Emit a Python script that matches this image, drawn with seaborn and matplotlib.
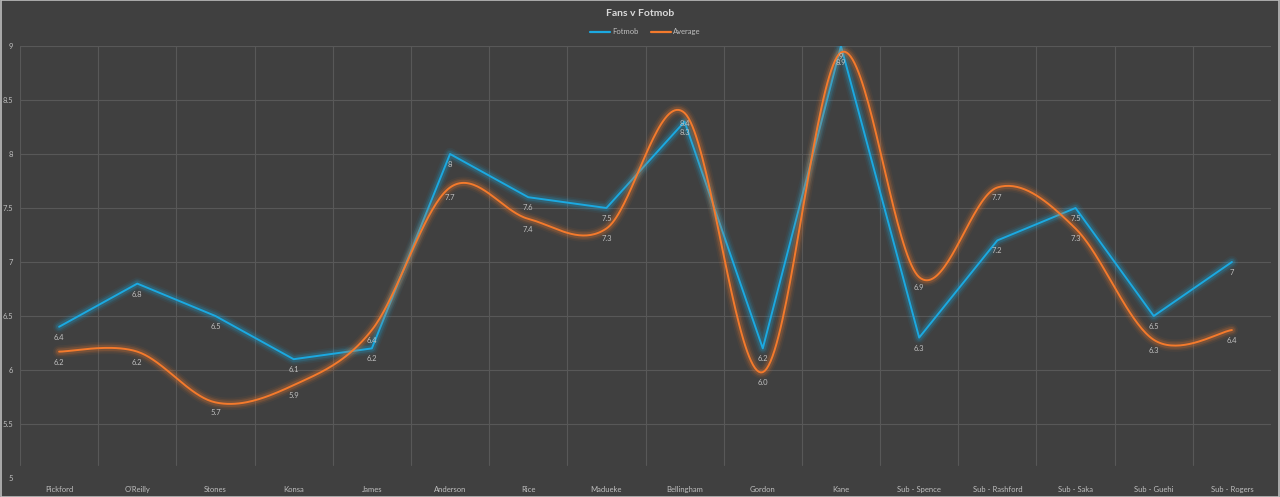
import numpy as np
import pandas as pd
import matplotlib
matplotlib.use("Agg")
import matplotlib.pyplot as plt
import matplotlib.patheffects as pe
from matplotlib.patches import Rectangle
import seaborn as sns

players = ["Pickford", "O'Reilly", "Stones", "Konsa", "James", "Anderson", "Rice",
           "Madueke", "Bellingham", "Gordon", "Kane", "Sub - Spence", "Sub - Rashford",
           "Sub - Saka", "Sub - Guehi", "Sub - Rogers"]
fotmob = [6.4, 6.8, 6.5, 6.1, 6.2, 8.0, 7.6, 7.5, 8.3, 6.2, 9.0, 6.3, 7.2, 7.5, 6.5, 7.0]
average = [6.17, 6.17, 5.70, 5.86, 6.37, 7.69, 7.40, 7.31, 8.38, 5.98, 8.94, 6.86, 7.69, 7.31, 6.28, 6.37]
y_ticks = [5, 5.5, 6, 6.5, 7, 7.5, 8, 8.5, 9]

BG = "#404040"
GRID = "#585858"
TXT = "#BFBFBF"
BLUE = "#1BA9E1"
ORANGE = "#F47A2C"


def smooth(xs, ys, n=40):
    """Bezier smoothing (as a spreadsheet 'smoothed line')."""
    P = np.column_stack([xs, ys]).astype(float)
    out = []
    for i in range(len(P) - 1):
        p0 = P[max(i - 1, 0)]
        p1 = P[i]
        p2 = P[i + 1]
        p3 = P[min(i + 2, len(P) - 1)]
        c1 = p1 + (p2 - p0) / 6.0
        c2 = p2 - (p3 - p1) / 6.0
        t = np.linspace(0, 1, n, endpoint=(i == len(P) - 2))[:, None]
        seg = ((1 - t) ** 3) * p1 + 3 * ((1 - t) ** 2) * t * c1 + 3 * (1 - t) * t ** 2 * c2 + t ** 3 * p2
        out.append(seg)
    arr = np.vstack(out)
    return arr[:, 0], arr[:, 1]


sns.set_theme(style="dark")
plt.rcParams["font.family"] = ["Lato", "DejaVu Sans"]

fig = plt.figure(figsize=(12.8, 4.97), dpi=100, facecolor=BG)
ax = fig.add_axes([20 / 1280, 1 - 478 / 497, 1251 / 1280, 432 / 497])
ax.set_facecolor(BG)

x = np.arange(len(players))
df_f = pd.DataFrame({"x": x, "y": fotmob})
sx, sy = smooth(x, average)
df_a = pd.DataFrame({"x": sx, "y": sy})


def glow(color):
    return [pe.Stroke(linewidth=9, foreground=color, alpha=0.06),
            pe.Stroke(linewidth=6.5, foreground=color, alpha=0.10),
            pe.Stroke(linewidth=4.5, foreground=color, alpha=0.18),
            pe.Normal()]


sns.lineplot(data=df_f, x="x", y="y", ax=ax, color=BLUE, linewidth=1.4,
             label="Fotmob", sort=False, path_effects=glow(BLUE))
sns.lineplot(data=df_a, x="x", y="y", ax=ax, color=ORANGE, linewidth=1.4,
             label="Average", sort=False, path_effects=glow(ORANGE))

for xi, v in zip(x, fotmob):
    ax.annotate(f"{v:g}", (xi, v), xytext=(0, -7.5), textcoords="offset points",
                ha="center", va="center", fontsize=5.5, color=TXT)
for xi, v in zip(x, average):
    ax.annotate(f"{v:.1f}", (xi, v), xytext=(0, -7.5), textcoords="offset points",
                ha="center", va="center", fontsize=5.5, color=TXT)

ax.set_xlim(-0.5, len(players) - 0.5)
ax.set_ylim(5, 9)
ax.set_yticks(y_ticks)
ax.set_yticklabels([f"{t:g}" for t in y_ticks])
ax.set_xticks(x)
ax.set_xticklabels(players)
ax.tick_params(axis="both", length=0, labelsize=5.5, colors=TXT)
ax.tick_params(axis="x", pad=6)
ax.tick_params(axis="y", pad=5)
ax.set_xlabel("")
ax.set_ylabel("")

ax.grid(False)
for yv in y_ticks[1:]:
    ax.axhline(yv, color=GRID, linewidth=0.8, zorder=0)
for xb in np.arange(-0.5, len(players) - 0.5, 1.0):
    ax.axvline(xb, ymin=0.03, ymax=1.0, color=GRID, linewidth=0.8, zorder=0)
for s in ax.spines.values():
    s.set_visible(False)

leg = ax.legend(loc="lower center", bbox_to_anchor=(0.5, 1.0), ncol=2, frameon=False,
                fontsize=5.5, handlelength=2.6, columnspacing=1.6, handletextpad=0.3,
                borderaxespad=1.0)
for t in leg.get_texts():
    t.set_color(TXT)
for h in leg.get_lines():
    h.set_path_effects([])
    h.set_linewidth(1.6)

fig.text(0.5, 1 - 13 / 497, "Fans v Fotmob", ha="center", va="center",
         fontsize=7.5, fontweight="bold", color="#D9D9D9")

fig.patches.append(Rectangle((0.0004, 0.001), 0.9992, 0.998, transform=fig.transFigure,
                             fill=False, edgecolor="#BDBDBD", linewidth=1.2))

fig.savefig("out.png", dpi=100, facecolor=BG)
